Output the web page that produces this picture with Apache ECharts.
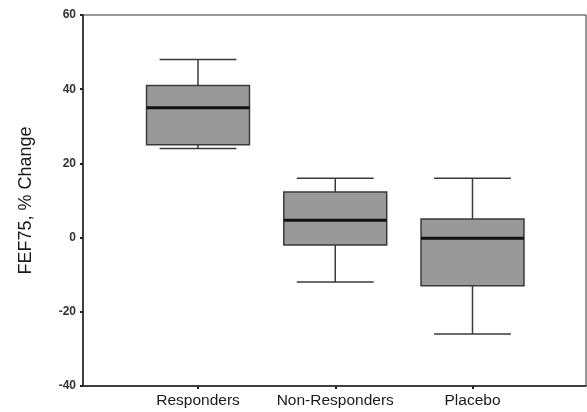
<!DOCTYPE html>
<html>
<head>
<meta charset="utf-8">
<script src="https://cdn.jsdelivr.net/npm/echarts@6/dist/echarts.min.js"></script>
<style>html,body{margin:0;padding:0;background:#fff;}#c{width:587px;height:412px;}</style>
</head>
<body>
<div id="c"></div>
<script>
const categories = ['Responders', 'Non-Responders', 'Placebo'];
const positions = [1, 2, 3];
const mins = [24, -12, -26];
const q1s = [25, -2, -13];
const medians = [35, 4.7, -0.2];
const q3s = [41, 12.3, 5];
const maxs = [48, 16, 16];
const yTicks = [-40, -20, 0, 20, 40, 60];

const boxData = positions.map((p, i) => [p, mins[i], q1s[i], medians[i], q3s[i], maxs[i]]);

const chart = echarts.init(document.getElementById('c'), null, {renderer: 'canvas'});

function renderItem(params, api) {
  const x = api.value(0);
  const unit = api.size([1, 0])[0];
  const boxW = unit * 0.75;
  const capW = unit * 0.56;
  const pMin = api.coord([x, api.value(1)]);
  const pQ1 = api.coord([x, api.value(2)]);
  const pMed = api.coord([x, api.value(3)]);
  const pQ3 = api.coord([x, api.value(4)]);
  const pMax = api.coord([x, api.value(5)]);
  const cx = pMed[0];
  const lineStyle = {stroke: '#3a3a3a', lineWidth: 1.5};
  return {
    type: 'group',
    children: [
      {type: 'line', shape: {x1: cx, y1: pMax[1], x2: cx, y2: pQ3[1]}, style: lineStyle},
      {type: 'line', shape: {x1: cx, y1: pQ1[1], x2: cx, y2: pMin[1]}, style: lineStyle},
      {type: 'line', shape: {x1: cx - capW / 2, y1: pMax[1], x2: cx + capW / 2, y2: pMax[1]}, style: lineStyle},
      {type: 'line', shape: {x1: cx - capW / 2, y1: pMin[1], x2: cx + capW / 2, y2: pMin[1]}, style: lineStyle},
      {type: 'rect', shape: {x: cx - boxW / 2, y: pQ3[1], width: boxW, height: pQ1[1] - pQ3[1]},
        style: {fill: '#999999', stroke: '#3a3a3a', lineWidth: 1.5}},
      {type: 'line', shape: {x1: cx - boxW / 2, y1: pMed[1], x2: cx + boxW / 2, y2: pMed[1]},
        style: {stroke: '#111', lineWidth: 3}}
    ]
  };
}

chart.setOption({
  animation: false,
  backgroundColor: '#fff',
  grid: {left: 83, right: 1, top: 15, bottom: 26, show: true, borderColor: '#333', borderWidth: 1, backgroundColor: 'transparent'},
  xAxis: {
    type: 'value',
    min: 0.162,
    max: 3.827,
    splitLine: {show: false},
    axisLine: {show: true, onZero: false, lineStyle: {color: '#222', width: 1.5}},
    axisTick: {show: true, customValues: positions, length: 3, inside: false, lineStyle: {color: '#222', width: 2}},
    axisLabel: {
      customValues: positions,
      formatter: v => categories[Math.round(v) - 1] || '',
      color: '#1a1a1a', fontSize: 15.5, fontFamily: 'Liberation Sans, Arial, sans-serif', margin: 7
    }
  },
  yAxis: {
    type: 'value',
    min: -40,
    max: 60,
    interval: 20,
    name: 'FEF75, % Change',
    nameLocation: 'middle',
    nameGap: 48,
    nameTextStyle: {color: '#1a1a1a', fontSize: 18, fontFamily: 'Liberation Sans, Arial, sans-serif'},
    splitLine: {show: false},
    axisLine: {show: true, onZero: false, lineStyle: {color: '#222', width: 1.5}},
    axisTick: {show: true, length: 3, lineStyle: {color: '#222', width: 2}},
    axisLabel: {color: '#333', fontSize: 12, fontWeight: 'bold', fontFamily: 'Liberation Sans, Arial, sans-serif', margin: 7,
      customValues: yTicks}
  },
  series: [{
    type: 'custom',
    renderItem: renderItem,
    data: boxData,
    encode: {x: 0, y: [1, 2, 3, 4, 5]},
    clip: false
  }]
});
</script>
</body>
</html>
